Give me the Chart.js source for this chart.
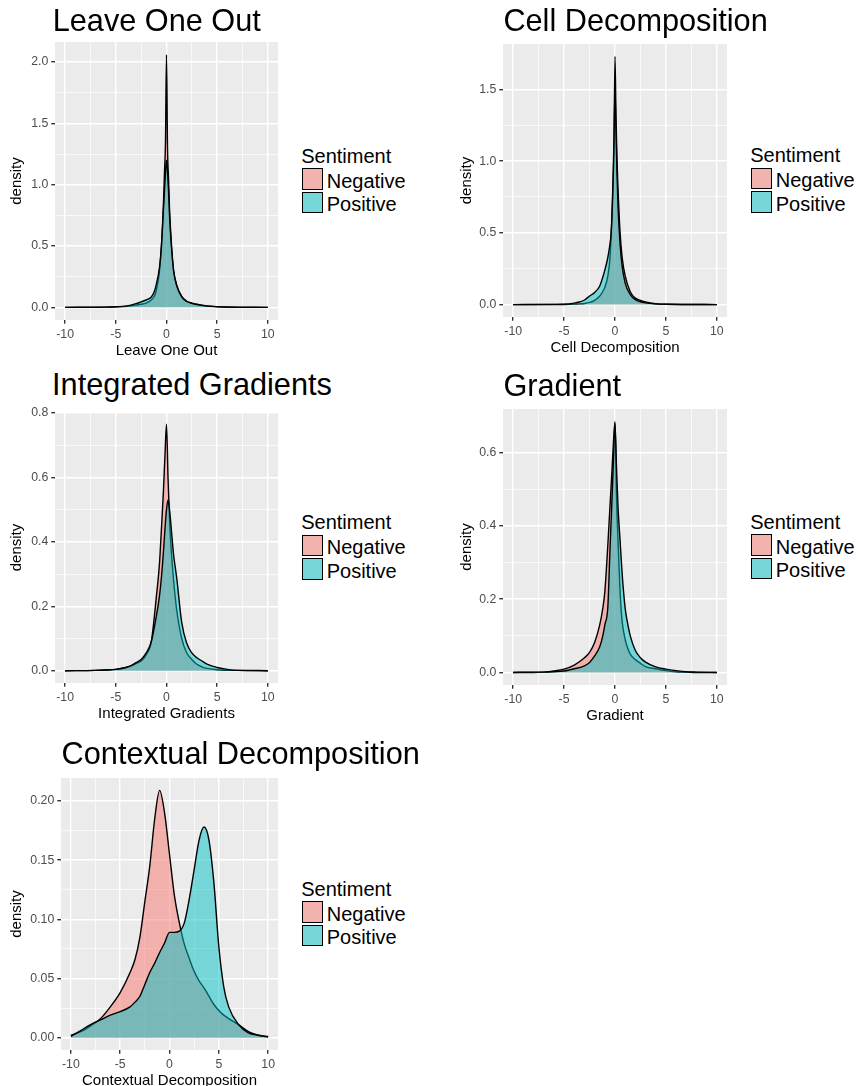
<!DOCTYPE html>
<html>
<head>
<meta charset="utf-8">
<script src="https://cdn.jsdelivr.net/npm/chart.js@4.4.0/dist/chart.umd.min.js"></script>
<style>
body{margin:0;background:#fff;width:858px;height:1086px;position:relative;overflow:hidden;font-family:"Liberation Sans",Arial,sans-serif;}
canvas{position:absolute;}
.titulo{position:absolute;font-size:30.7px;line-height:30.7px;color:#000;white-space:nowrap;}
.txt{position:absolute;font-size:20px;line-height:20px;color:#000;white-space:nowrap;}
.llave{position:absolute;width:21.5px;height:21.5px;box-sizing:border-box;border:1.4px solid #000;}
</style>
</head>
<body>
<script>
// ---- datos ----
var titulos = ["Leave One Out","Cell Decomposition","Integrated Gradients","Gradient","Contextual Decomposition"];
var grupos = ["Negative","Positive"];
var tituloLeyenda = "Sentiment";

var xTicks = [-10,-5,0,5,10];
var xLabels = ["-10","-5","0","5","10"];

// Leave One Out
var xLOO   = [-10,-6,-5,-4,-3.5,-3,-2.5,-2,-1.5,-1.2,-1,-0.7,-0.5,-0.3,-0.2,-0.1,0,0.1,0.2,0.3,0.5,0.7,1,1.5,2,2.5,3,4,5,6,10];
var negLOO = [0,0.002,0.004,0.008,0.012,0.018,0.025,0.035,0.06,0.09,0.14,0.29,0.5,0.85,1.1,1.35,2.06,1.3,1.05,0.8,0.5,0.3,0.18,0.09,0.05,0.035,0.025,0.012,0.006,0.003,0];
var posLOO = [0,0.002,0.005,0.01,0.018,0.03,0.045,0.06,0.085,0.13,0.19,0.32,0.5,0.8,0.95,1.1,1.2,1.1,0.95,0.75,0.48,0.3,0.18,0.085,0.048,0.033,0.022,0.01,0.005,0.002,0];
var yTicksLOO  = [0,0.5,1,1.5,2];
var yLabelsLOO = ["0.0","0.5","1.0","1.5","2.0"];

// Cell Decomposition
var xCD1   = [-10,-5,-4,-3.5,-3,-2.5,-2,-1.5,-1,-0.7,-0.5,-0.4,-0.3,-0.2,-0.1,0,0.1,0.2,0.3,0.5,0.7,1,1.5,2,2.5,3,4,5,10];
var negCD1 = [0,0.001,0.003,0.005,0.008,0.015,0.03,0.06,0.12,0.2,0.32,0.45,0.6,0.8,1.1,1.73,1.3,1.0,0.8,0.5,0.33,0.2,0.09,0.045,0.03,0.018,0.006,0.002,0];
var posCD1 = [0,0.003,0.01,0.018,0.032,0.06,0.085,0.13,0.24,0.33,0.42,0.48,0.62,0.85,1.15,1.5,1.2,0.9,0.68,0.42,0.27,0.15,0.07,0.035,0.02,0.012,0.005,0.002,0];
var yTicksCD1  = [0,0.5,1,1.5];
var yLabelsCD1 = ["0.0","0.5","1.0","1.5"];

// Integrated Gradients
var xIG   = [-10,-7,-6,-5,-4,-3.5,-3,-2.5,-2,-1.5,-1,-0.7,-0.5,-0.3,-0.15,0,0.15,0.3,0.5,0.7,1,1.5,2,2.5,3,3.5,4,5,6,7,10];
var negIG = [0,0.001,0.002,0.004,0.01,0.015,0.022,0.03,0.05,0.09,0.23,0.33,0.44,0.56,0.67,0.765,0.6,0.47,0.36,0.28,0.19,0.1,0.055,0.035,0.02,0.012,0.007,0.003,0.001,0.001,0];
var posIG = [0,0.001,0.002,0.004,0.01,0.016,0.025,0.035,0.055,0.09,0.17,0.23,0.29,0.37,0.44,0.5,0.53,0.5,0.43,0.36,0.29,0.15,0.085,0.055,0.04,0.03,0.02,0.01,0.004,0.001,0];
var yTicksIG  = [0,0.2,0.4,0.6,0.8];
var yLabelsIG = ["0.0","0.2","0.4","0.6","0.8"];

// Gradient
var xGR   = [-10,-8,-7,-6,-5,-4,-3,-2.5,-2,-1.5,-1.2,-1,-0.7,-0.5,-0.3,-0.15,0,0.15,0.3,0.5,0.7,1,1.2,1.5,2,2.5,3,4,5,6,7,8,10];
var negGR = [0,0,0.001,0.004,0.009,0.02,0.04,0.055,0.082,0.13,0.175,0.22,0.35,0.45,0.55,0.63,0.685,0.48,0.36,0.22,0.14,0.09,0.07,0.05,0.035,0.025,0.016,0.01,0.005,0.002,0.001,0,0];
var posGR = [0,0.001,0.001,0.002,0.004,0.01,0.018,0.027,0.045,0.07,0.1,0.13,0.18,0.33,0.47,0.58,0.68,0.56,0.45,0.36,0.27,0.175,0.14,0.1,0.06,0.04,0.028,0.015,0.009,0.005,0.002,0.001,0];
var yTicksGR  = [0,0.2,0.4,0.6];
var yLabelsGR = ["0.0","0.2","0.4","0.6"];

// Contextual Decomposition
var xCTX   = [-10,-9,-8,-7,-6,-5,-4,-3.5,-3,-2.5,-2,-1.5,-1,-0.5,0,0.5,1,1.5,2,2.5,3,3.5,4,4.5,5,5.5,6,7,8,9,10];
var negCTX = [0.002,0.005,0.01,0.016,0.026,0.038,0.055,0.066,0.085,0.115,0.145,0.185,0.209,0.19,0.155,0.12,0.097,0.079,0.067,0.056,0.048,0.042,0.035,0.028,0.023,0.019,0.016,0.011,0.005,0.002,0.0005];
var posCTX = [0.001,0.006,0.011,0.015,0.019,0.022,0.026,0.03,0.035,0.045,0.055,0.063,0.072,0.08,0.089,0.089,0.09,0.097,0.117,0.142,0.167,0.178,0.167,0.131,0.077,0.043,0.026,0.011,0.004,0.002,0.001];
var yTicksCTX  = [0,0.05,0.1,0.15,0.2];
var yLabelsCTX = ["0.00","0.05","0.10","0.15","0.20"];

// ---- dibujo ----
var fuente = '"Liberation Sans", Arial, sans-serif';

var fondoPanel = {
    id: "fondoPanel",
    beforeDraw: function(chart){
        var a = chart.chartArea, ctx = chart.ctx;
        ctx.save();
        ctx.fillStyle = "#EBEBEB";
        ctx.fillRect(a.left, a.top, a.right - a.left, a.bottom - a.top);
        ctx.restore();
    }
};

function conMenores(mayores){
    var todos = [];
    var paso = mayores[1] - mayores[0];
    for (var i = 0; i < mayores.length; i++){
        todos.push(mayores[i]);
        if (i < mayores.length - 1) todos.push(mayores[i] + paso/2);
    }
    return todos;
}

function esMayor(v, mayores){
    for (var i = 0; i < mayores.length; i++){
        if (Math.abs(v - mayores[i]) < 1e-9) return i;
    }
    return -1;
}

function eje(mayores, etiquetas, extra, min, max){
    var todos = conMenores(mayores).concat(extra);
    return {
        type: "linear", min: min, max: max,
        afterBuildTicks: function(s){ s.ticks = todos.map(function(v){ return {value: v}; }); },
        ticks: {
            autoSkip: false, maxRotation: 0, color: "#4D4D4D",
            font: {family: fuente, size: 12.3},
            callback: function(v){ var i = esMayor(v, mayores); return i >= 0 ? etiquetas[i] : ""; }
        },
        grid: {
            color: "#FFFFFF",
            lineWidth: function(c){ return esMayor(c.tick.value, mayores) >= 0 ? 1.4 : 0.7; },
            tickColor: function(c){ return esMayor(c.tick.value, mayores) >= 0 ? "#333333" : "rgba(0,0,0,0)"; },
            tickLength: 3.7, tickWidth: 1.4
        },
        border: {display: false}
    };
}

function grafica(n, xs, neg, pos, yTicks, yLabels, caja){
    var canvas = document.createElement("canvas");
    var margen = 10;
    var ancho = caja.right - caja.cLeft + 6;
    var alto = caja.bottom - caja.top + 40 + margen;
    canvas.width = ancho; canvas.height = alto;
    canvas.style.left = caja.cLeft + "px";
    canvas.style.top = (caja.top - margen) + "px";
    document.body.appendChild(canvas);

    var pico = Math.max(Math.max.apply(null, neg), Math.max.apply(null, pos));
    var ejeX = eje(xTicks, xLabels, [], -11, 11);
    ejeX.ticks.padding = 3.5;
    ejeX.title = {display: true, text: titulos[n], color: "#000", font: {family: fuente, size: 15}, padding: {top: 0, bottom: 0.2}};
    ejeX.afterFit = function(s){ s.height = 40; s.paddingLeft = 0; s.paddingRight = 0; };

    var ejeY = eje(yTicks, yLabels, [], -0.05 * pico, 1.05 * pico);
    ejeY.ticks.padding = 3;
    ejeY.title = {display: true, text: "density", color: "#000", font: {family: fuente, size: 15}, padding: {top: 8, bottom: 0}};
    ejeY.afterFit = function(s){ s.width = caja.left - caja.cLeft; s.paddingTop = 0; s.paddingBottom = 0; };

    new Chart(canvas.getContext("2d"), {
        type: "line",
        data: {
            datasets: [{
                label: grupos[0],
                data: xs.map(function(x, i){ return {x: x, y: neg[i]}; }),
                backgroundColor: "rgba(248,118,109,0.5)",
                borderColor: "#000", borderWidth: 1.4,
                fill: "origin", pointRadius: 0,
                cubicInterpolationMode: "monotone", order: 1
            }, {
                label: grupos[1],
                data: xs.map(function(x, i){ return {x: x, y: pos[i]}; }),
                backgroundColor: "rgba(0,191,196,0.5)",
                borderColor: "#000", borderWidth: 1.4,
                fill: "origin", pointRadius: 0,
                cubicInterpolationMode: "monotone", order: 0
            }]
        },
        options: {
            responsive: false, animation: false, events: [],
            layout: {padding: {left: 0, top: margen, right: 6, bottom: 0}, autoPadding: false},
            plugins: {legend: {display: false}, tooltip: {enabled: false}},
            scales: {x: ejeX, y: ejeY}
        },
        plugins: [fondoPanel]
    });

    // titulo
    var t = document.createElement("div");
    t.className = "titulo";
    t.textContent = titulos[n];
    t.style.left = caja.tLeft + "px";
    t.style.top = caja.tTop + "px";
    document.body.appendChild(t);

    // leyenda
    var K = caja.right + 23.7, T = (caja.top + caja.bottom) / 2 - 12.7;
    var lt = document.createElement("div");
    lt.className = "txt"; lt.textContent = tituloLeyenda;
    lt.style.left = (K - 0.5) + "px"; lt.style.top = (T - 22.4) + "px";
    document.body.appendChild(lt);
    var colores = ["#F2B2AD", "#77D6D8"];
    for (var i = 0; i < 2; i++){
        var k = document.createElement("div");
        k.className = "llave";
        k.style.background = colores[i];
        k.style.left = K + "px"; k.style.top = (T + i * 23.4) + "px";
        document.body.appendChild(k);
        var l = document.createElement("div");
        l.className = "txt"; l.textContent = grupos[i];
        l.style.left = (K + 25) + "px"; l.style.top = (T + 2.4 + i * 23.7) + "px";
        document.body.appendChild(l);
    }
}

grafica(0, xLOO, negLOO, posLOO, yTicksLOO, yLabelsLOO, {cLeft: 0,   left: 55,  right: 278, top: 42,  bottom: 320,  tLeft: 52.7,  tTop: 6.3});
grafica(1, xCD1, negCD1, posCD1, yTicksCD1, yLabelsCD1, {cLeft: 450, left: 503, right: 727, top: 44,  bottom: 317,  tLeft: 503.4, tTop: 6.3});
grafica(2, xIG,  negIG,  posIG,  yTicksIG,  yLabelsIG,  {cLeft: 0,   left: 55,  right: 278, top: 412, bottom: 683,  tLeft: 52.1,  tTop: 370});
grafica(3, xGR,  negGR,  posGR,  yTicksGR,  yLabelsGR,  {cLeft: 450, left: 503, right: 727, top: 409, bottom: 685,  tLeft: 503.4, tTop: 370.7});
grafica(4, xCTX, negCTX, posCTX, yTicksCTX, yLabelsCTX, {cLeft: 0,   left: 61,  right: 278, top: 778, bottom: 1050, tLeft: 61.6,  tTop: 739});
</script>
</body>
</html>
